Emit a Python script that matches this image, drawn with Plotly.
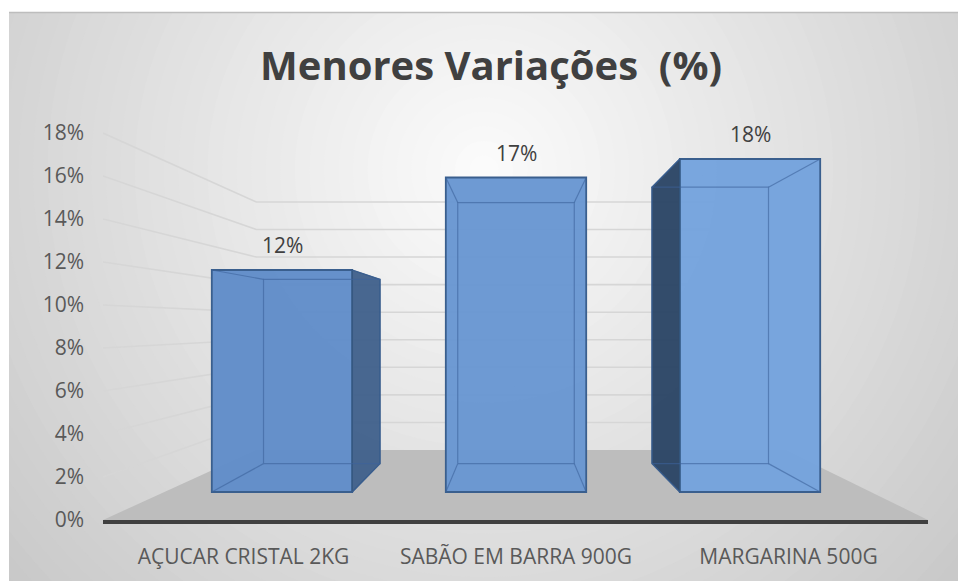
import plotly.graph_objects as go

# ---------------- data ----------------
categories = ["AÇUCAR CRISTAL 2KG", "SABÃO EM BARRA 900G", "MARGARINA 500G"]
values = [0.12, 0.17, 0.18]
y_ticks = [0.00, 0.02, 0.04, 0.06, 0.08, 0.10, 0.12, 0.14, 0.16, 0.18]
title_text = "Menores Variações  (%)"

# ---------------- layout geometry (screen pixels) ----------------
W, H = 958, 581
L, R, T, B = 103, 928, 120, 520          # plot area
CX = 516                                  # px of middle category
FRONT_PX_CAT, FRONT_PX_PCT = 272.5, 21.5  # scene front plane scale
BAR_PX_CAT, BAR_PX_PCT, BAR_BASE = 234.0, 18.5, 492
VP_X_SCENE, VP_X_BAR, VP_Y = 530, 516, 325
WALL_S, BACK_S = 0.641, 0.83


def pxx(x):
    return x / W


def pxy(y):
    return 1 - y / H


xr = [1 - (CX - L) / FRONT_PX_CAT, 1 + (R - CX) / FRONT_PX_CAT]
yr = [0, (B - T) / FRONT_PX_PCT / 100]
x2r = [1 - (CX - L) / BAR_PX_CAT, 1 + (R - CX) / BAR_PX_CAT]
y2r = [-(B - BAR_BASE) / BAR_PX_PCT / 100, (BAR_BASE - T) / BAR_PX_PCT / 100]

VS = (1 + (VP_X_SCENE - CX) / FRONT_PX_CAT, (B - VP_Y) / FRONT_PX_PCT / 100)
VB = (1 + (VP_X_BAR - CX) / BAR_PX_CAT, (BAR_BASE - VP_Y) / BAR_PX_PCT / 100)


def proj(p, v, s):
    return (v[0] + s * (p[0] - v[0]), v[1] + s * (p[1] - v[1]))


fig = go.Figure()

# ---------------- floor ----------------
fl = [(xr[0], 0), (xr[1], 0)]
fb = [proj(fl[1], VS, WALL_S), proj(fl[0], VS, WALL_S)]
poly = fl + fb + [fl[0]]
fig.add_trace(go.Scatter(
    x=[p[0] for p in poly], y=[p[1] for p in poly], mode="lines",
    fill="toself", fillcolor="#bdbdbd", line=dict(width=0),
    hoverinfo="skip", showlegend=False))

# ---------------- wall gridlines ----------------
gx, gy = [], []
for t in y_ticks[1:]:
    a = (xr[0], t)
    b = proj(a, VS, WALL_S)
    c = proj((xr[1], t), VS, WALL_S)
    gx += [a[0], b[0], c[0], None]
    gy += [a[1], b[1], c[1], None]
fig.add_trace(go.Scatter(x=gx, y=gy, mode="lines",
                         line=dict(color="#d6d6d6", width=1.6),
                         hoverinfo="skip", showlegend=False))

# ---------------- bars (front faces) ----------------
idx = list(range(len(categories)))
bar_fill = ["rgba(96,141,201,0.96)", "rgba(104,150,209,0.96)", "rgba(116,162,221,0.96)"]
bw = 0.6
fig.add_trace(go.Bar(
    x=idx, y=values, xaxis="x2", yaxis="y2", width=bw,
    marker=dict(color=bar_fill, line=dict(color="#3a5f8e", width=1.8)),
    hoverinfo="skip", showlegend=False))

side_cols = ["rgba(66,98,140,0.97)", None, "rgba(44,70,102,0.97)"]
for i, v in zip(idx, values):
    lft, rgt = i - bw / 2, i + bw / 2
    face = None
    if rgt < VB[0] - 1e-9:
        face = rgt
    elif lft > VB[0] + 1e-9:
        face = lft
    if face is not None:
        pts = [(face, 0), (face, v), proj((face, v), VB, BACK_S), proj((face, 0), VB, BACK_S), (face, 0)]
        fig.add_trace(go.Scatter(
            x=[p[0] for p in pts], y=[p[1] for p in pts], mode="lines",
            xaxis="x2", yaxis="y2", fill="toself",
            fillcolor=side_cols[i] or "rgba(0,0,0,0)",
            line=dict(color="#34577f", width=1.2),
            hoverinfo="skip", showlegend=False))
    corners = [(lft, 0), (lft, v), (rgt, v), (rgt, 0)]
    back = [proj(c, VB, BACK_S) for c in corners]
    ex, ey = [], []
    for p in back + [back[0]]:
        ex.append(p[0]); ey.append(p[1])
    ex.append(None); ey.append(None)
    for c, bk in zip(corners, back):
        ex += [c[0], bk[0], None]
        ey += [c[1], bk[1], None]
    fig.add_trace(go.Scatter(x=ex, y=ey, mode="lines", xaxis="x2", yaxis="y2",
                             line=dict(color="rgba(60,98,155,0.6)", width=1.2),
                             hoverinfo="skip", showlegend=False))

for i, v in zip(idx, values):
    fig.add_annotation(x=i, y=v, xref="x2", yref="y2", text=f"{v:.0%}",
                       showarrow=False, yanchor="middle", yshift=25,
                       font=dict(family="Open Sans", size=21, color="#404040"))

# ---------------- background (radial gradient) ----------------
shapes = []
shapes.append(dict(type="rect", xref="paper", yref="paper", x0=pxx(9), x1=1.05, y0=-0.05, y1=pxy(12),
                   fillcolor="#c8c8c8", line=dict(width=0), layer="below"))
gc = (484, 170)
RAD = 640
N = 44
for k in range(N):
    r = RAD * (1 - k / N)
    val = int(round(200 + 52 * (1 - r / RAD)))
    col = f"rgb({val},{val},{val})"
    shapes.append(dict(type="circle", xref="paper", yref="paper",
                       x0=pxx(gc[0] - r), x1=pxx(gc[0] + r),
                       y0=pxy(gc[1] + r), y1=pxy(gc[1] - r),
                       fillcolor=col, line=dict(width=0), layer="below"))
shapes.append(dict(type="rect", xref="paper", yref="paper", x0=-0.2, x1=1.2, y0=pxy(12), y1=1.3,
                   fillcolor="white", line=dict(width=0), layer="below"))
shapes.append(dict(type="rect", xref="paper", yref="paper", x0=-0.2, x1=pxx(9), y0=-0.2, y1=1.3,
                   fillcolor="white", line=dict(width=0), layer="below"))
shapes.append(dict(type="line", xref="paper", yref="paper", x0=pxx(9), x1=1.05, y0=pxy(12.5), y1=pxy(12.5),
                   line=dict(color="#bdbdbd", width=1.5), layer="below"))

fig.update_layout(
    width=W, height=H,
    margin=dict(l=0, r=0, t=0, b=0, autoexpand=False),
    paper_bgcolor="white", plot_bgcolor="rgba(0,0,0,0)",
    shapes=shapes, showlegend=False, hovermode=False,
    title=dict(text=title_text, x=pxx(491), xanchor="center", y=pxy(66), yanchor="middle",
               font=dict(family="Open Sans", size=40, color="#404040", weight="bold")),
    xaxis=dict(domain=[pxx(L), pxx(R)], range=xr, tickvals=idx, ticktext=categories,
               showgrid=False, zeroline=False, showline=True, linecolor="#404040", linewidth=3.5,
               ticks="", ticklabelstandoff=15, automargin=False,
               tickfont=dict(family="Open Sans", size=21, color="#595959"), fixedrange=True),
    yaxis=dict(domain=[pxy(B), pxy(T)], range=yr, tickvals=y_ticks, tickformat=".0%",
               showgrid=False, zeroline=False, showline=False, ticks="", ticklabelstandoff=18,
               automargin=False,
               tickfont=dict(family="Open Sans", size=21, color="#595959"), fixedrange=True),
    xaxis2=dict(overlaying="x", anchor="y2", range=x2r, visible=False, fixedrange=True, automargin=False),
    yaxis2=dict(overlaying="y", anchor="x2", range=y2r, visible=False, fixedrange=True, automargin=False),
    bargap=0,
)

fig.write_html(
    "out.html",
    config={"displayModeBar": False, "staticPlot": True},
    post_script="document.body.style.margin='0';document.body.style.overflow='hidden';",
)
